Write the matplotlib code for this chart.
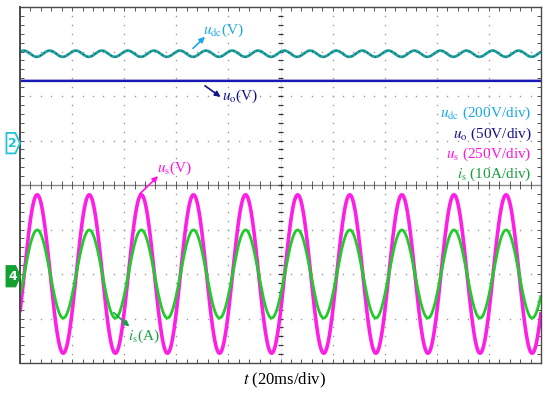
import matplotlib.pyplot as plt
from matplotlib.patches import Polygon
import numpy as np

plt.rcParams['font.family'] = ['Liberation Serif', 'DejaVu Serif']
plt.rcParams['mathtext.fontset'] = 'stix'

# traces, in screen divisions (10 x 8 grid, t in divisions of 20 ms)
trace_names = ['udc', 'uo', 'us', 'is']
trace_colors = ['#1fa3a3', '#1818b4', '#ff1ee6', '#1fcc2a']
trace_widths = [2.0, 1.8, 2.6, 2.0]
offsets = [2.95, 2.34, -2.0, -2.0]
amplitudes = [0.07, 0.0, 1.78, 0.99]
cycles_per_div = [2.0, 0.0, 1.0, 1.0]
peak_at = [0.07, 0.0, 0.33, 0.33]

legend_texts = [r'$u_{\rm dc}$ (200V/div)', r'$u_{\rm o}$ (50V/div)',
                r'$u_{\rm s}$ (250V/div)', r'$i_{\rm s}$ (10A/div)']
legend_colors = ['#1aa8e6', '#12128c', '#ff14e0', '#18a040']

fig = plt.figure(figsize=(5.5, 3.93), dpi=100)
ax = fig.add_axes([20/550, 1 - 363/393, 521/550, 356/393])
ax.set_xlim(0, 10)
ax.set_ylim(-4, 4)

# frame and ticks
for s in ax.spines.values():
    s.set_color('#4a4a4a')
    s.set_linewidth(1.0)
ax.spines['left'].set_linewidth(1.4)
ax.set_xticks(np.arange(0, 10.01, 0.2))
ax.set_yticks(np.arange(-4, 4.01, 0.2))
ax.tick_params(direction='in', length=3, width=0.7, color='#555555',
               top=True, right=True, labelbottom=False, labelleft=False)

# dotted grid
minor_x = np.arange(0, 10.01, 0.2)
minor_y = np.arange(-4, 4.01, 0.2)
for gy in range(-3, 4):
    if gy != 0:
        ax.plot(minor_x, np.full_like(minor_x, gy), ls='none', marker='s',
                ms=1.0, color='#9a9a9a', mec='none')
for gx in range(1, 10):
    if gx != 5:
        ax.plot(np.full_like(minor_y, gx), minor_y, ls='none', marker='s',
                ms=1.0, color='#9a9a9a', mec='none')

# centre axes with ticks
ax.axhline(0, color='#8a8a8a', lw=1.0)
ax.axvline(5, color='#b0b0b0', lw=0.6, ls=(0, (1, 2)))
ax.vlines(minor_x, -0.09, 0.09, color='#555555', lw=0.7)
ax.hlines(minor_y, 5 - 0.05, 5 + 0.05, color='#333333', lw=0.9)

# waveforms
t = np.linspace(0, 10, 3000)
for name, c, w, off, amp, f, pk in zip(trace_names, trace_colors, trace_widths,
                                       offsets, amplitudes, cycles_per_div, peak_at):
    y = off + amp * np.cos(2 * np.pi * f * (t - pk))
    ax.plot(t, y, color=c, lw=w, solid_capstyle='butt', clip_on=True)
    if name == 'udc':
        ax.plot(t, y, color='#1d4e50', lw=0.8, ls=(0, (1, 3)))

# trace labels with arrows
def label(text, color, xy_text, xy_tail, xy_head):
    ax.annotate('', xy=xy_head, xytext=xy_tail,
                arrowprops=dict(arrowstyle='-|>', color=color, lw=1.2,
                                mutation_scale=8, shrinkA=0, shrinkB=0))
    ax.text(xy_text[0], xy_text[1], text, color=color, fontsize=11,
            ha='left', va='center')

label(r'$u_{\rm dc}$(V)', '#1aa8e6', (3.52, 3.48), (3.32, 3.07), (3.55, 3.33))
label(r'$u_{\rm o}$(V)', '#12128c', (3.88, 2.0), (3.55, 2.23), (3.85, 1.98))
label(r'$u_{\rm s}$(V)', '#ff14e0', (2.62, 0.38), (2.3, -0.2), (2.65, 0.2))
label(r'$i_{\rm s}$(A)', '#18a040', (2.07, -3.4), (1.8, -2.87), (2.1, -3.18))

# scale legend
for i, (txt, c) in enumerate(zip(legend_texts, legend_colors)):
    ax.text(9.82, 1.6 - i * 0.455, txt, color=c, fontsize=11,
            ha='right', va='center')

# channel markers
def marker(yc, num, face, edge, tcol):
    pts = [(-0.26, yc - 0.23), (-0.09, yc - 0.23), (0.0, yc),
           (-0.09, yc + 0.23), (-0.26, yc + 0.23)]
    ax.add_patch(Polygon(pts, closed=True, facecolor=face, edgecolor=edge,
                         lw=1.3, clip_on=False, zorder=5))
    ax.text(-0.14, yc, num, color=tcol, fontsize=9, fontweight='bold',
            family='DejaVu Sans', ha='center', va='center', clip_on=False,
            zorder=6)

marker(0.94, '2', 'white', '#22c4d4', '#22c4d4')
marker(-2.05, '4', '#12a030', '#12a030', 'white')

fig.text(285/550, 1 - 380/393, r'$t$ (20ms/div)', fontsize=12,
         ha='center', va='center', color='black')

fig.savefig('out.png', dpi=100)
